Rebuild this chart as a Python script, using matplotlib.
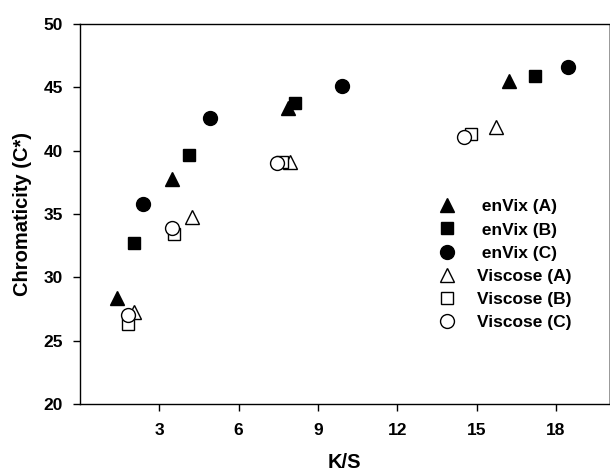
import matplotlib
matplotlib.use("Agg")
import matplotlib.pyplot as plt

plt.rcParams['font.family'] = ['Liberation Sans', 'DejaVu Sans']
plt.rcParams['font.weight'] = 'bold'

# K/S vs chromaticity
envix_a_x = [1.39, 3.49, 7.88, 16.22]
envix_a_y = [28.4, 37.8, 43.4, 45.5]
envix_b_x = [2.04, 4.13, 8.13, 17.2]
envix_b_y = [32.7, 39.7, 43.8, 45.9]
envix_c_x = [2.39, 4.91, 9.92, 18.46]
envix_c_y = [35.8, 42.6, 45.15, 46.6]
viscose_a_x = [2.04, 4.22, 7.94, 15.75]
viscose_a_y = [27.3, 34.8, 39.1, 41.9]
viscose_b_x = [1.83, 3.55, 7.66, 14.8]
viscose_b_y = [26.3, 33.45, 39.1, 41.3]
viscose_c_x = [1.83, 3.47, 7.44, 14.52]
viscose_c_y = [27.05, 33.9, 39.05, 41.1]

series = [
    (envix_a_x, envix_a_y, '^', 'black', 10, ' enVix (A)'),
    (envix_b_x, envix_b_y, 's', 'black', 8.5, ' enVix (B)'),
    (envix_c_x, envix_c_y, 'o', 'black', 10, ' enVix (C)'),
    (viscose_a_x, viscose_a_y, '^', 'white', 10, 'Viscose (A)'),
    (viscose_b_x, viscose_b_y, 's', 'white', 8.5, 'Viscose (B)'),
    (viscose_c_x, viscose_c_y, 'o', 'white', 10, 'Viscose (C)'),
]

x_ticks = [3, 6, 9, 12, 15, 18]
y_ticks = [20, 25, 30, 35, 40, 45, 50]

fig = plt.figure(figsize=(6.1, 4.73), dpi=100)
ax = fig.add_axes([0.131, 0.146, 0.867, 0.803])

for xs, ys, m, fc, ms, lab in series:
    ax.plot(xs, ys, linestyle='none', marker=m, markersize=ms,
            markerfacecolor=fc, markeredgecolor='black', markeredgewidth=1.0,
            label=lab)

ax.set_xlim(0, 20)
ax.set_ylim(20, 50)
ax.set_xticks(x_ticks)
ax.set_yticks(y_ticks)
ax.tick_params(axis='x', direction='out', length=5, width=1, pad=9, labelsize=12.5)
ax.tick_params(axis='y', direction='out', length=5, width=1, pad=7, labelsize=12.5)
for lbl in ax.get_xticklabels() + ax.get_yticklabels():
    lbl.set_fontweight('bold')

for side in ['left', 'bottom', 'top']:
    ax.spines[side].set_linewidth(1.0)
ax.spines['right'].set_linewidth(0.6)
ax.spines['right'].set_color('#888888')

ax.set_xlabel('K/S', fontsize=14.5, fontweight='bold')
ax.set_ylabel('Chromaticity (C*)', fontsize=14.5, fontweight='bold')
ax.xaxis.set_label_coords(0.5, -0.128)
ax.yaxis.set_label_coords(-0.091, 0.5)

leg = ax.legend(loc='upper left', bbox_to_anchor=(0.678, 0.539), frameon=False,
                fontsize=12.5, borderpad=0, borderaxespad=0, handlelength=1.0,
                handletextpad=1.2, labelspacing=0.46)
for t in leg.get_texts():
    t.set_fontweight('bold')

fig.savefig('out.png', dpi=100)
